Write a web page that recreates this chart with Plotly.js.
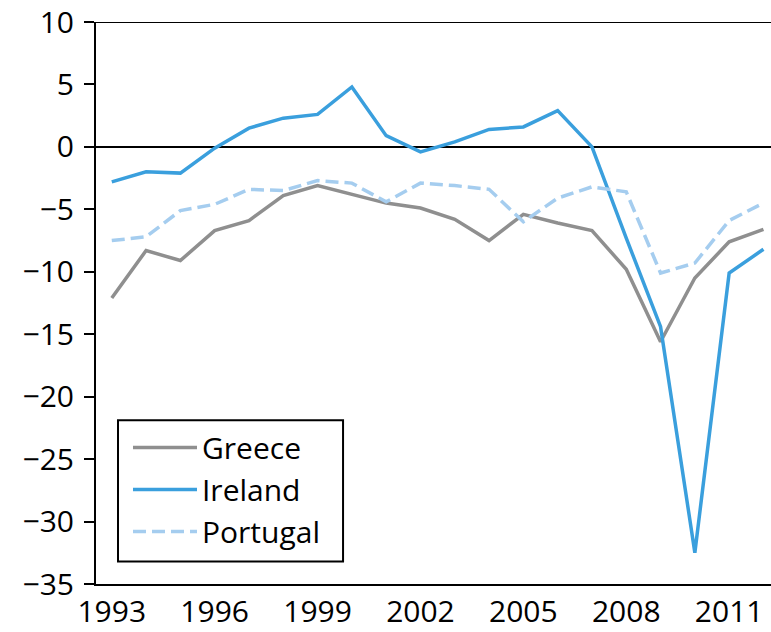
<!DOCTYPE html>
<html>
<head>
<meta charset="utf-8">
<script src="https://cdn.plot.ly/plotly-3.0.1.min.js"></script>
<style>
html,body{margin:0;padding:0;background:#fff;}
#chart{width:771px;height:632px;}
</style>
</head>
<body>
<div id="chart"></div>
<script>
const years = [1993,1994,1995,1996,1997,1998,1999,2000,2001,2002,2003,2004,2005,2006,2007,2008,2009,2010,2011,2012];
const greece = [-12.1,-8.3,-9.1,-6.7,-5.9,-3.9,-3.1,-3.8,-4.5,-4.9,-5.8,-7.5,-5.4,-6.1,-6.7,-9.8,-15.6,-10.5,-7.6,-6.6];
const ireland = [-2.8,-2.0,-2.1,-0.1,1.5,2.3,2.6,4.8,0.9,-0.4,0.4,1.4,1.6,2.9,0.0,-7.3,-14.4,-32.5,-10.1,-8.2];
const portugal = [-7.5,-7.2,-5.1,-4.6,-3.4,-3.5,-2.7,-2.9,-4.4,-2.9,-3.1,-3.4,-6.0,-4.1,-3.2,-3.6,-10.1,-9.3,-5.9,-4.5];
const seriesNames = ['Greece','Ireland','Portugal'];
const xTickVals = [1993,1996,1999,2002,2005,2008,2011];
const yTickVals = [10,5,0,-5,-10,-15,-20,-25,-30,-35];

const FONT = '"Open Sans", "Noto Sans", sans-serif';

const traces = [
  {x: years, y: greece, name: seriesNames[0], type: 'scatter', mode: 'lines',
   line: {color: '#8f8f8f', width: 3.5}},
  {x: years, y: ireland, name: seriesNames[1], type: 'scatter', mode: 'lines',
   line: {color: '#3a9fdd', width: 3.5}},
  {x: years, y: portugal, name: seriesNames[2], type: 'scatter', mode: 'lines',
   line: {color: '#a5cdef', width: 3.5, dash: '13px,6px'}}
];

const layout = {
  width: 771, height: 632,
  margin: {l: 96, r: 0, t: 22, b: 48, pad: 0},
  paper_bgcolor: '#ffffff', plot_bgcolor: '#ffffff',
  font: {family: FONT, size: 30, color: '#000'},
  showlegend: true,
  legend: {
    x: 0.0474, y: 0.289, xanchor: 'left', yanchor: 'top',
    bgcolor: 'rgba(0,0,0,0)', borderwidth: 0,
    font: {family: FONT, size: 30, color: '#000'},
    itemwidth: 64, tracegroupgap: 0
  },
  xaxis: {
    range: [1992.54, 2012.22],
    tickvals: xTickVals, ticktext: xTickVals.map(String),
    showgrid: false, zeroline: false,
    showline: true, linecolor: '#000', linewidth: 2,
    ticks: '', ticklabelstandoff: 0,
    tickfont: {family: FONT, size: 30, color: '#000'}
  },
  yaxis: {
    range: [-35, 10],
    tickvals: yTickVals,
    showgrid: false,
    zeroline: true, zerolinecolor: '#000', zerolinewidth: 2,
    showline: true, linecolor: '#000', linewidth: 2,
    ticks: 'outside', ticklen: 10, tickwidth: 2, tickcolor: '#000',
    ticklabelstandoff: 4,
    tickfont: {family: FONT, size: 30, color: '#000'}
  },
  shapes: [
    {type: 'line', xref: 'paper', yref: 'y', x0: 0, x1: 1, y0: 10, y1: 10,
     line: {color: '#000', width: 2}},
    {type: 'rect', xref: 'paper', yref: 'paper', layer: 'above',
     x0: 0.0326, x1: 0.366, y0: 0.040, y1: 0.2913,
     fillcolor: '#ffffff', line: {color: '#000', width: 2}}
  ]
};

Plotly.newPlot('chart', traces, layout, {displayModeBar: false, staticPlot: true});
</script>
</body>
</html>
